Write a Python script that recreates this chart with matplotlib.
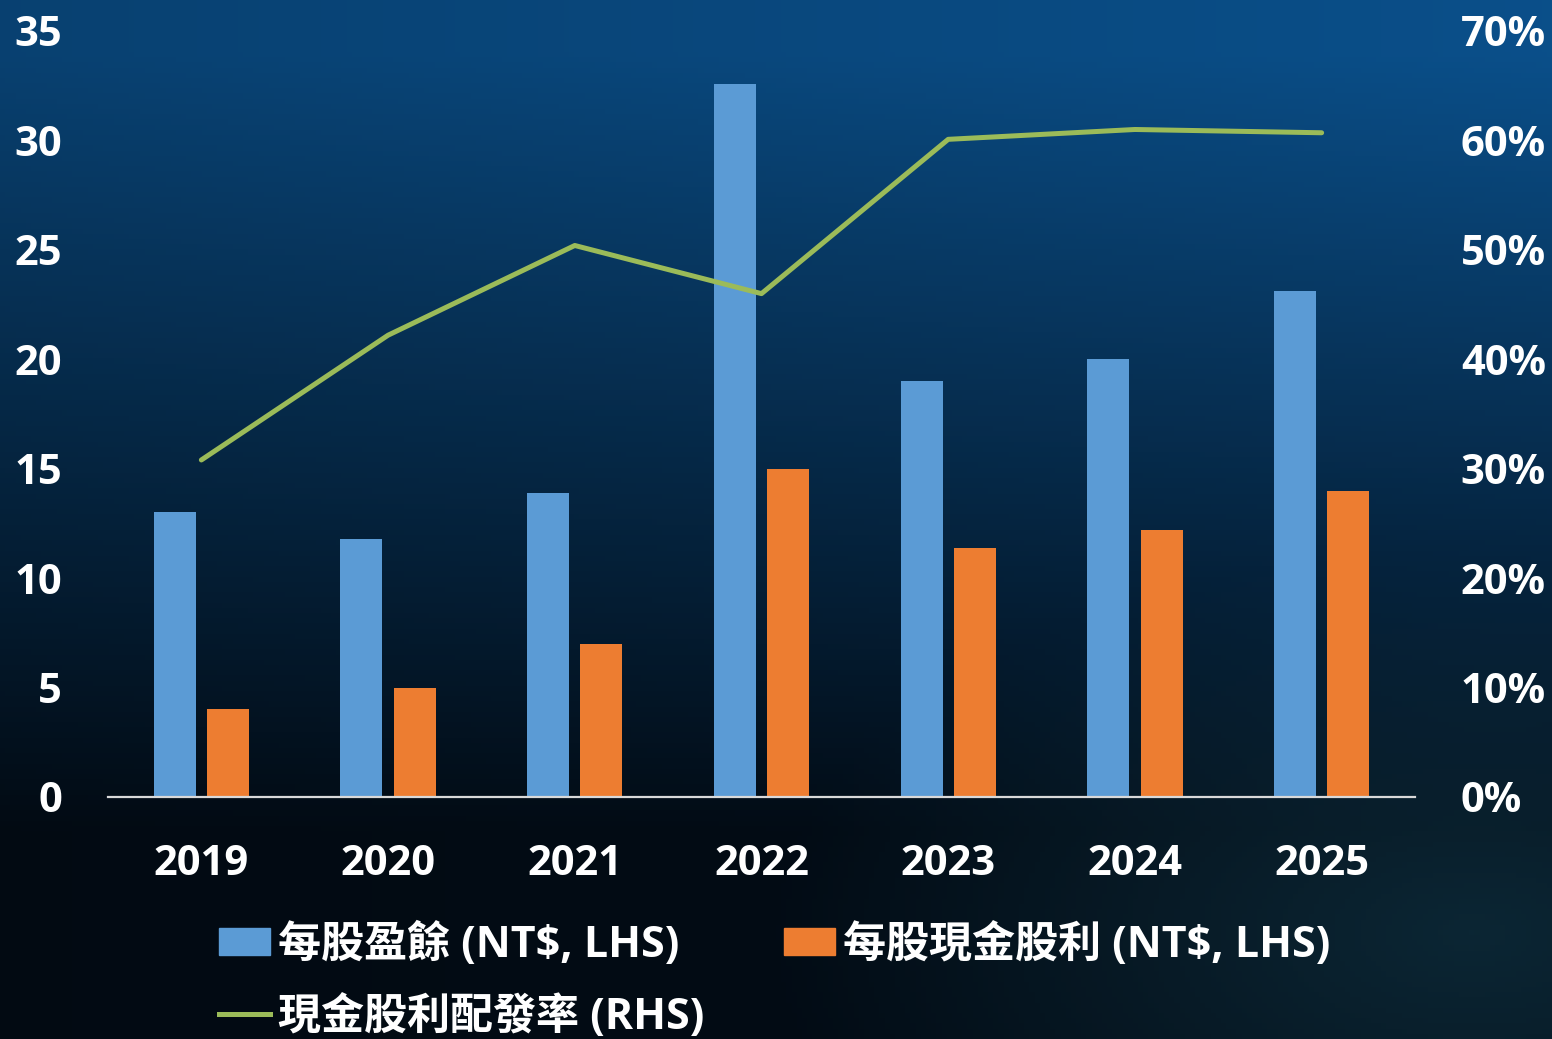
import numpy as np
import matplotlib
matplotlib.use("Agg")
import matplotlib.pyplot as plt
from matplotlib.lines import Line2D
from matplotlib.patches import Patch

plt.rcParams['font.family'] = ['Open Sans', 'Noto Sans CJK TC', 'DejaVu Sans']
plt.rcParams['font.weight'] = 'bold'

years = ["2019", "2020", "2021", "2022", "2023", "2024", "2025"]
eps = [13.0, 11.8, 13.9, 32.6, 19.0, 20.0, 23.1]
dps = [4.0, 5.0, 7.0, 15.0, 11.4, 12.2, 14.0]
payout = [30.8, 42.2, 50.4, 46.0, 60.1, 61.0, 60.7]

lbl_eps = "每股盈餘 (NT$, LHS)"
lbl_dps = "每股現金股利 (NT$, LHS)"
lbl_pay = "現金股利配發率 (RHS)"

c_blue = "#5b9bd5"
c_orange = "#ed7d31"
c_green = "#9bbb59"

W, H = 1552, 1039
fs = 30
fs_leg = 31
fig = plt.figure(figsize=(W / 100, H / 100), dpi=100)

# background gradient
bg = fig.add_axes([0, 0, 1, 1], zorder=0)
yy, xx = np.mgrid[0:1:200j, 0:1:300j]
top = np.array([0.04, 0.31, 0.54])
bot = np.array([0.01, 0.05, 0.09])
t = np.clip((yy - 0.05) / 0.75, 0, 1)[..., None]
img = top * (1 - t) + bot * t
img = img * (0.82 + 0.18 * xx[..., None])
# teal glow bottom right
d = np.sqrt((xx - 0.95) ** 2 + ((1 - yy) - 0.1) ** 2 * 1.5)
glow = np.clip(1 - d / 0.45, 0, 1)[..., None] * 0.5
img = img * (1 - glow) + np.array([0.08, 0.25, 0.32]) * glow
bg.imshow(img, extent=[0, 1, 0, 1], aspect="auto", origin="upper")
bg.axis("off")

ax = fig.add_axes([108 / W, 1 - 797 / H, (1415 - 108) / W, (797 - 31) / H], zorder=1)
ax.patch.set_alpha(0)
x = np.arange(len(years))
bw = 0.225
off = 0.143
ax.bar(x - off, eps, bw, color=c_blue, zorder=2)
ax.bar(x + off, dps, bw, color=c_orange, zorder=2)
ax.set_xlim(-0.5, len(years) - 0.5)
ax.set_ylim(0, 35)
ax.set_yticks(range(0, 36, 5))
ax.set_xticks(x)
ax.set_xticklabels(years)
for s in ["top", "right", "left"]:
    ax.spines[s].set_visible(False)
ax.spines["bottom"].set_color("#d9d9d9")
ax.spines["bottom"].set_linewidth(1.6)
ax.tick_params(axis="both", length=0, colors="white", labelsize=fs)
ax.tick_params(axis="y", pad=33)
ax.tick_params(axis="x", pad=34)
for lab in ax.get_yticklabels():
    lab.set_horizontalalignment("right")
    lab.set_fontweight("bold")
for lab in ax.get_xticklabels():
    lab.set_fontweight("bold")

ax2 = ax.twinx()
ax2.plot(x, payout, color=c_green, lw=3.6, solid_capstyle="round", zorder=3)
ax2.set_ylim(0, 70)
ax2.set_yticks(range(0, 71, 10))
ax2.set_yticklabels([f"{v}%" for v in range(0, 71, 10)])
for s in ["top", "right", "left", "bottom"]:
    ax2.spines[s].set_visible(False)
ax2.tick_params(axis="y", length=0, colors="white", labelsize=fs, pad=33)
for lab in ax2.get_yticklabels():
    lab.set_fontweight("bold")

handles1 = [Patch(color=c_blue), Patch(color=c_orange)]
leg1 = fig.legend(handles1, [lbl_eps, lbl_dps], loc="center left",
                  bbox_to_anchor=(219 / W, 1 - 945 / H), ncol=2, frameon=False,
                  handlelength=1.18, handleheight=0.58, borderpad=0, borderaxespad=0,
                  handletextpad=0.18, columnspacing=2.45,
                  prop={'weight': 'bold', 'size': fs_leg})
for tx in leg1.get_texts():
    tx.set_color("white")
handles2 = [Line2D([], [], color=c_green, lw=3.6)]
leg2 = fig.legend(handles2, [lbl_pay], loc="center left",
                  bbox_to_anchor=(219 / W, 1 - 1017 / H), frameon=False,
                  handlelength=1.18, handletextpad=0.18, borderpad=0, borderaxespad=0,
                  prop={'weight': 'bold', 'size': fs_leg})
for tx in leg2.get_texts():
    tx.set_color("white")

fig.savefig("out.png", dpi=100)
